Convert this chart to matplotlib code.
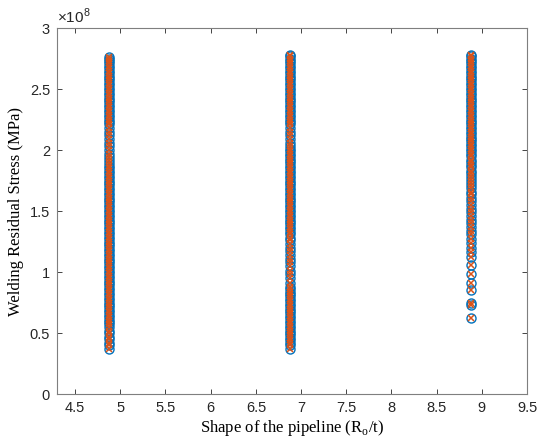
import numpy as np
import matplotlib
matplotlib.use("Agg")
import matplotlib.pyplot as plt

# Shape of the pipeline (Ro/t) for each column
shapes = [4.88, 6.88, 8.88]

# Welding residual stress values, in units of 1e6
stress_col1 = [276, 275, 273, 271, 269, 267, 265, 263, 261, 259, 257, 255, 253, 251, 249, 247, 245, 243, 241,
               239, 237, 235, 233, 231, 229, 227, 225, 223, 221,
               218, 215, 212, 209, 206, 203, 200, 197, 194, 192,
               189, 187, 185, 183, 181, 179, 177, 175, 173, 171, 169, 167, 165, 163, 161, 159, 157, 155, 153,
               151, 149, 147, 145, 143, 141, 139, 137, 135, 133, 131, 129, 127, 125, 123, 121, 119, 117, 115,
               113, 111, 109, 107, 105, 103, 101, 99, 97, 95, 93, 91, 89, 87, 85, 83, 81, 79, 77, 75, 73, 71,
               69, 67, 65, 63, 61, 59, 57, 55,
               52, 50, 47, 45, 42, 40, 37]
stress_col2 = [278, 277, 275, 273, 271, 269, 267, 265, 263, 261, 259, 257, 255, 253, 251, 249, 247, 245, 243,
               241, 239, 237, 235, 233, 231, 229, 227, 225, 223, 221,
               218, 215, 212, 209, 206, 203,
               201, 199, 197, 195, 193, 191, 189, 187, 185, 183, 181, 179, 177, 175, 173, 171, 169, 167, 165,
               163, 161, 159, 157, 155, 153, 151, 149, 147, 145, 143, 141, 139, 137, 135,
               133, 131, 128, 126, 123, 120, 117, 114, 111, 108, 105, 101, 98, 95, 91,
               88, 86, 84, 82, 80, 78, 76, 74, 72, 70, 68, 66, 64, 62, 60, 58, 56, 54, 52, 50, 48, 46, 44,
               42, 40, 37]
stress_col3 = [278, 277, 275, 273, 271, 269, 267, 265, 263, 261, 259, 257, 255, 253, 251, 249, 247, 245, 243,
               241, 239, 237, 235, 233, 231, 229, 227, 225, 223, 221, 219, 217, 215, 213, 211,
               209, 207, 205, 203, 201, 199, 197, 195, 192, 190, 188, 186, 183, 181, 179, 176, 174, 171, 169,
               166, 164, 161, 158, 155, 152, 149, 146, 143, 140, 137, 134, 131, 127, 124, 120, 116, 112, 106,
               98, 91, 85, 75, 73, 62]

columns = [stress_col1, stress_col2, stress_col3]

xticks = [4.5, 5, 5.5, 6, 6.5, 7, 7.5, 8, 8.5, 9, 9.5]
yticks = [0, 0.5, 1, 1.5, 2, 2.5, 3]

blue = '#0072BD'
orange = '#D95319'
axcol = '#262626'

plt.rcParams['mathtext.fontset'] = 'custom'
plt.rcParams['mathtext.rm'] = 'Liberation Sans'

fig = plt.figure(figsize=(5.4, 4.45), dpi=100)
ax = fig.add_axes([0.1056, 0.1146, 0.8704, 0.8224])

for xv, col in zip(shapes, columns):
    y = np.array(col) * 1e6
    x = np.full(len(y), xv)
    ax.plot(x, y, linestyle='none', marker='o', ms=6.5, mfc='none', mec=blue, mew=1.0)
for xv, col in zip(shapes, columns):
    y = np.array(col) * 1e6
    x = np.full(len(y), xv)
    ax.plot(x, y, linestyle='none', marker='x', ms=5.0, mec=orange, mew=1.1)

ax.set_xlim(4.3, 9.5)
ax.set_ylim(0, 3e8)
ax.set_xticks(xticks)
ax.set_xticklabels([f'{t:g}' for t in xticks], family='Liberation Sans', fontsize=10.5, color=axcol)
ax.set_yticks([t * 1e8 for t in yticks])
ax.set_yticklabels([f'{t:g}' for t in yticks], family='Liberation Sans', fontsize=10.5, color=axcol)
ax.tick_params(direction='in', top=True, right=True, length=3.5, width=0.6, colors=axcol, pad=5)
for s in ax.spines.values():
    s.set_color('#7f7f7f')
    s.set_linewidth(0.8)

ax.text(0.0, 1.006, r'$\times 10^{8}$', transform=ax.transAxes, fontsize=11, color=axcol,
        ha='left', va='bottom')

ax.set_xlabel(r'Shape of the pipeline (R$_{\mathregular{o}}$/t)', family='Liberation Serif', fontsize=12, labelpad=2)
ax.set_ylabel('Welding Residual Stress (MPa)', family='Liberation Serif', fontsize=12, labelpad=4)

fig.savefig('out.png', dpi=100)
